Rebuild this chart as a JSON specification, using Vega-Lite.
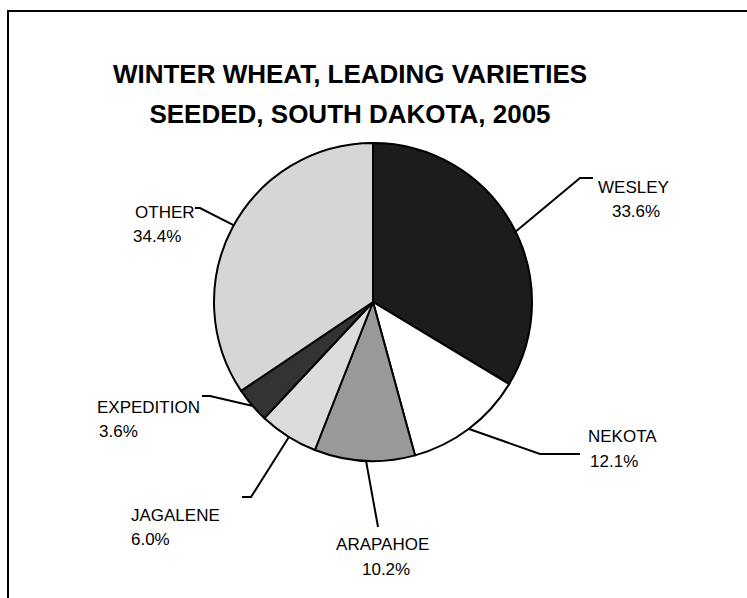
{
  "$schema": "https://vega.github.io/schema/vega-lite/v6.json",
  "width": 760,
  "height": 600,
  "autosize": {"type": "none"},
  "padding": {"left": 8, "top": 11, "right": 0, "bottom": 0},
  "background": "white",
  "config": {
    "view": {"stroke": "black", "strokeWidth": 2},
    "font": "Liberation Sans"
  },
  "title": {
    "text": ["WINTER WHEAT, LEADING VARIETIES", "SEEDED, SOUTH DAKOTA, 2005"],
    "orient": "top",
    "anchor": "middle",
    "baseline": "top",
    "offset": -117,
    "dx": -38,
    "fontSize": 26,
    "fontWeight": "bold",
    "font": "Liberation Sans",
    "color": "black",
    "lineHeight": 40
  },
  "datasets": {
    "slices": [
      {"variety": "WESLEY", "pct": 33.6, "idx": 1},
      {"variety": "NEKOTA", "pct": 12.1, "idx": 2},
      {"variety": "ARAPAHOE", "pct": 10.2, "idx": 3},
      {"variety": "JAGALENE", "pct": 6.0, "idx": 4},
      {"variety": "EXPEDITION", "pct": 3.6, "idx": 5},
      {"variety": "OTHER", "pct": 34.4, "idx": 6}
    ],
    "leaders": [
      {"variety": "WESLEY", "pt": 1, "x": 0.870, "y": 0.426},
      {"variety": "WESLEY", "pt": 2, "x": 1.278, "y": 0.765},
      {"variety": "WESLEY", "pt": 3, "x": 1.358, "y": 0.765},
      {"variety": "NEKOTA", "pt": 1, "x": 0.593, "y": -0.784},
      {"variety": "NEKOTA", "pt": 2, "x": 1.031, "y": -0.938},
      {"variety": "NEKOTA", "pt": 3, "x": 1.278, "y": -0.938},
      {"variety": "ARAPAHOE", "pt": 1, "x": -0.043, "y": -0.981},
      {"variety": "ARAPAHOE", "pt": 2, "x": 0.031, "y": -1.389},
      {"variety": "JAGALENE", "pt": 1, "x": -0.519, "y": -0.833},
      {"variety": "JAGALENE", "pt": 2, "x": -0.753, "y": -1.204},
      {"variety": "JAGALENE", "pt": 3, "x": -0.809, "y": -1.204},
      {"variety": "EXPEDITION", "pt": 1, "x": -0.741, "y": -0.642},
      {"variety": "EXPEDITION", "pt": 2, "x": -1.006, "y": -0.580},
      {"variety": "EXPEDITION", "pt": 3, "x": -1.056, "y": -0.580},
      {"variety": "OTHER", "pt": 1, "x": -0.861, "y": 0.475},
      {"variety": "OTHER", "pt": 2, "x": -1.068, "y": 0.580},
      {"variety": "OTHER", "pt": 3, "x": -1.099, "y": 0.580}
    ],
    "labels": [
      {"text": "WESLEY", "x": 1.389, "y": 0.704},
      {"text": "33.6%", "x": 1.475, "y": 0.556},
      {"text": "NEKOTA", "x": 1.327, "y": -0.833},
      {"text": "12.1%", "x": 1.340, "y": -0.988},
      {"text": "ARAPAHOE", "x": -0.228, "y": -1.500},
      {"text": "10.2%", "x": -0.068, "y": -1.654},
      {"text": "JAGALENE", "x": -1.494, "y": -1.321},
      {"text": "6.0%", "x": -1.494, "y": -1.469},
      {"text": "EXPEDITION", "x": -1.704, "y": -0.654},
      {"text": "3.6%", "x": -1.691, "y": -0.802},
      {"text": "OTHER", "x": -1.469, "y": 0.549},
      {"text": "34.4%", "x": -1.481, "y": 0.401}
    ]
  },
  "layer": [
    {
      "data": {"name": "slices"},
      "mark": {"type": "arc", "radius": 159, "stroke": "black", "strokeWidth": 2},
      "encoding": {
        "theta": {"field": "pct", "type": "quantitative", "stack": true},
        "order": {"field": "idx", "type": "quantitative"},
        "color": {
          "field": "variety",
          "type": "nominal",
          "scale": {
            "domain": ["WESLEY", "NEKOTA", "ARAPAHOE", "JAGALENE", "EXPEDITION", "OTHER"],
            "range": ["#1c1c1c", "#ffffff", "#999999", "#dcdcdc", "#333333", "#d6d6d6"]
          },
          "legend": null
        },
        "x": {"datum": 0, "type": "quantitative", "scale": {"domain": [-2.2531, 2.4383], "nice": false, "zero": false}, "axis": null},
        "y": {"datum": 0, "type": "quantitative", "scale": {"domain": [-1.9074, 1.7963], "nice": false, "zero": false}, "axis": null}
      }
    },
    {
      "data": {"name": "leaders"},
      "mark": {"type": "line", "stroke": "black", "strokeWidth": 2},
      "encoding": {
        "x": {"field": "x", "type": "quantitative", "scale": {"domain": [-2.2531, 2.4383], "nice": false, "zero": false}, "axis": null},
        "y": {"field": "y", "type": "quantitative", "scale": {"domain": [-1.9074, 1.7963], "nice": false, "zero": false}, "axis": null},
        "detail": {"field": "variety", "type": "nominal"},
        "order": {"field": "pt", "type": "quantitative"}
      }
    },
    {
      "data": {"name": "labels"},
      "mark": {"type": "text", "align": "left", "baseline": "middle", "fontSize": 17, "font": "Liberation Sans", "color": "black"},
      "encoding": {
        "x": {"field": "x", "type": "quantitative", "scale": {"domain": [-2.2531, 2.4383], "nice": false, "zero": false}, "axis": null},
        "y": {"field": "y", "type": "quantitative", "scale": {"domain": [-1.9074, 1.7963], "nice": false, "zero": false}, "axis": null},
        "text": {"field": "text", "type": "nominal"}
      }
    }
  ]
}
